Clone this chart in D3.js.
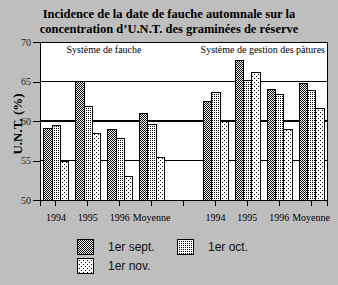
<!DOCTYPE html>
<html lang="fr">
<head>
<meta charset="UTF-8">
<script src="https://d3js.org/d3.v7.min.js"></script>
<style>
  body { margin: 0; background: #bebebe; }
  svg { display: block; }
</style>
</head>
<body>
<svg id="chart" width="338" height="285"></svg>
<script>
// categories (empty slot separates the two systems)
const categories = ["f1994", "f1995", "f1996", "fMoy", "gap", "g1994", "g1995", "g1996", "gMoy"];
const catLabels = ["1994", "1995", "1996", "Moyenne", "", "1994", "1995", "1996", "Moyenne"];
const series = ["1er sept.", "1er oct.", "1er nov."];
const sept = [59.1, 65.0, 58.9, 61.0, null, 62.5, 67.7, 64.0, 64.8];
const oct  = [59.4, 61.8, 57.8, 59.6, null, 63.6, 65.1, 63.3, 63.9];
const nov  = [54.9, 58.4, 53.0, 55.4, null, 60.0, 66.2, 58.9, 61.6];
const yTicks = [50, 55, 60, 65, 70];

const svg = d3.select("#chart");
const margin = { top: 42, right: 11, bottom: 85, left: 40 };
const W = 338, H = 285;
const x0 = margin.left, x1 = W - margin.right;
const y0 = margin.top, y1 = H - margin.bottom;

// patterns
const defs = svg.append("defs");
function pattern(id, w, h, dots) {
  const p = defs.append("pattern").attr("id", id).attr("patternUnits", "userSpaceOnUse")
    .attr("width", w).attr("height", h);
  p.append("rect").attr("width", w).attr("height", h).attr("fill", "#fff");
  dots.forEach(d => p.append("rect").attr("x", d[0]).attr("y", d[1]).attr("width", 1).attr("height", 1).attr("fill", "#000"));
}
pattern("pSept", 2, 2, [[0, 0], [1, 1]]);
pattern("pOct", 2, 2, [[0, 0]]);
pattern("pNov", 4, 4, [[0, 0], [2, 2]]);
const fills = ["url(#pSept)", "url(#pOct)", "url(#pNov)"];

// title
const title = svg.append("text").attr("x", 169).attr("text-anchor", "middle")
  .style("font-family", "'Liberation Serif', serif").style("font-weight", "bold").style("font-size", "12.5px");
title.append("tspan").attr("x", 169).attr("y", 18).text("Incidence de la date de fauche automnale sur la");
title.append("tspan").attr("x", 169).attr("y", 33).text("concentration d\u2019U.N.T. des graminées de réserve");

// scales
const x = d3.scaleBand().domain(categories).range([x0, x1]).padding(0);
const xs = d3.scaleBand().domain(series).range([0, 25]).padding(0);
const y = d3.scaleLinear().domain([50, 70]).range([y1, y0]);

// plot area
svg.append("rect").attr("x", x0).attr("y", y0).attr("width", x1 - x0).attr("height", y1 - y0)
  .attr("fill", "#fff").attr("stroke", "#000").attr("stroke-width", 1)
  .attr("shape-rendering", "crispEdges");

// grid
svg.append("g").selectAll("line").data([55, 60, 65]).enter().append("line")
  .attr("x1", x0).attr("x2", x1).attr("y1", d => y(d)).attr("y2", d => y(d))
  .attr("stroke", "#000").attr("stroke-width", 1.3).attr("shape-rendering", "crispEdges");

// bars
const valueSets = [sept, oct, nov];
const rows = [];
categories.forEach((c, i) => {
  series.forEach((s, j) => {
    const v = valueSets[j][i];
    if (v != null) rows.push({ c, s, v, j });
  });
});
svg.append("g").selectAll("rect").data(rows).enter().append("rect")
  .attr("x", d => x(d.c) + x.bandwidth() / 2 - 12 + xs(d.s))
  .attr("y", d => y(d.v))
  .attr("width", xs.bandwidth())
  .attr("height", d => y1 - y(d.v))
  .attr("fill", d => fills[d.j])
  .attr("stroke", "#000").attr("stroke-width", 1)
  .attr("shape-rendering", "crispEdges");

// axes
const yAxis = svg.append("g").attr("transform", "translate(" + x0 + ",0)")
  .call(d3.axisLeft(y).tickValues(yTicks).tickSize(7).tickPadding(2));
const xAxis = svg.append("g").attr("transform", "translate(0," + y1 + ")")
  .call(d3.axisBottom(x).tickFormat((d, i) => catLabels[i]).tickSize(6).tickPadding(8));
[yAxis, xAxis].forEach(a => {
  a.select(".domain").attr("stroke", "#000").attr("shape-rendering", "crispEdges");
  a.selectAll(".tick line").attr("stroke", "#000").attr("shape-rendering", "crispEdges");
  a.selectAll("text").style("font-family", "'Liberation Serif', serif").attr("fill", "#000");
});
yAxis.selectAll("text").style("font-size", "10px").attr("fill", "#222");
xAxis.selectAll("text").style("font-size", "10px");

// y title
svg.append("text").attr("transform", "translate(22," + ((y0 + y1) / 2 + 3) + ") rotate(-90)")
  .attr("text-anchor", "middle")
  .style("font-family", "'Liberation Serif', serif").style("font-weight", "bold").style("font-size", "13px")
  .text("U.N.T. (%)");

// panel labels
svg.append("text").attr("x", 104).attr("y", 53).attr("text-anchor", "middle")
  .style("font-family", "'Liberation Serif', serif").style("font-size", "10px")
  .text("Système de fauche");
svg.append("text").attr("x", 325).attr("y", 53).attr("text-anchor", "end")
  .style("font-family", "'Liberation Serif', serif").style("font-size", "10px")
  .text("Système de gestion des pâtures");

// legend
const legendPos = [[77, 239], [177, 239], [77, 258]];
const lg = svg.append("g").selectAll("g").data(series).enter().append("g")
  .attr("transform", (d, i) => "translate(" + legendPos[i][0] + "," + legendPos[i][1] + ")");
lg.append("rect").attr("width", 16).attr("height", 15).attr("fill", (d, i) => fills[i])
  .attr("stroke", "#000").attr("stroke-width", 1).attr("shape-rendering", "crispEdges");
lg.append("text").attr("x", 31).attr("y", 12)
  .style("font-family", "'Liberation Sans', sans-serif").style("font-size", "12px")
  .attr("fill", "#111")
  .text(d => d);
</script>
</body>
</html>
